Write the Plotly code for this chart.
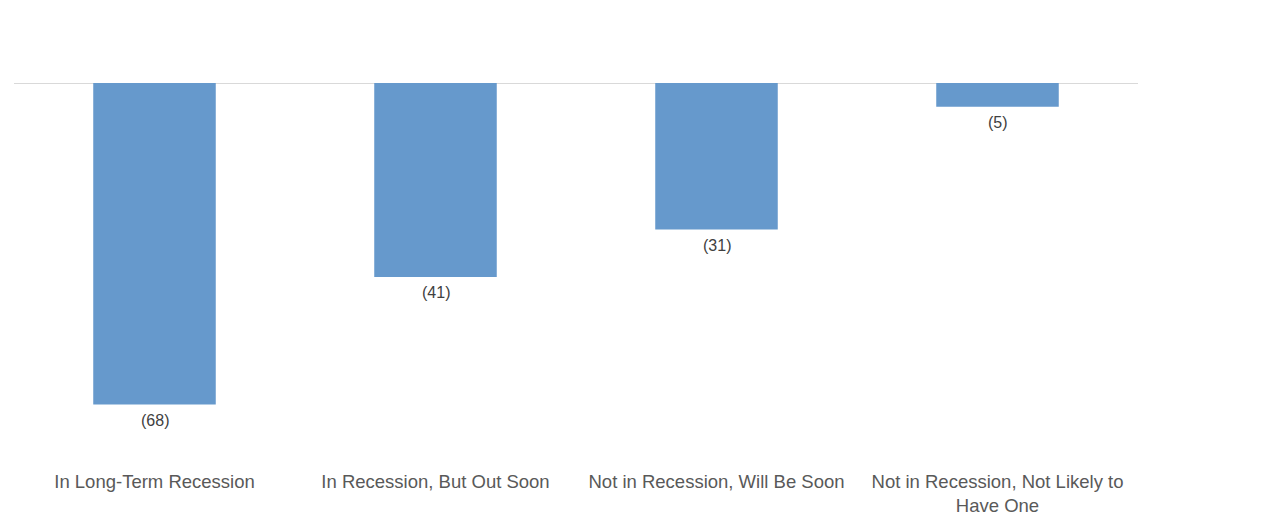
import plotly.graph_objects as go

categories = ["In Long-Term Recession", "In Recession, But Out Soon",
              "Not in Recession, Will Be Soon", "Not in Recession, Not Likely to Have One"]
tick_labels = ["In Long-Term Recession", "In Recession, But Out Soon",
               "Not in Recession, Will Be Soon", "Not in Recession, Not Likely to<br>Have One"]
values = [-68, -41, -31, -5]
value_labels = [f"({abs(v)})" for v in values]

fig = go.Figure()
fig.add_trace(go.Bar(
    x=categories, y=values,
    marker=dict(color="#6699cc", line=dict(width=0)),
))
for c, v, t in zip(categories, values, value_labels):
    fig.add_annotation(x=c, y=v, text=t, showarrow=False, yanchor="top", yshift=-5,
                       font=dict(family="Liberation Sans, Arial", size=16, color="#404040"))
fig.update_layout(
    width=1280, height=518,
    margin=dict(l=6, r=150, t=75, b=67),
    paper_bgcolor="white", plot_bgcolor="white",
    bargap=0.564,
    showlegend=False,
    font=dict(family="Liberation Sans, Arial", color="#595959"),
    xaxis=dict(tickvals=categories, ticktext=tick_labels, showgrid=False,
               showline=False, ticks="", tickfont=dict(size=18.5, color="#595959"),
               ticklabelstandoff=9),
    yaxis=dict(range=[-79.5, 0], visible=True, showgrid=False, showticklabels=False,
               zeroline=True, zerolinecolor="#d9d9d9", zerolinewidth=1, showline=False,
               ticks=""),
)
fig.write_html("out.html")
